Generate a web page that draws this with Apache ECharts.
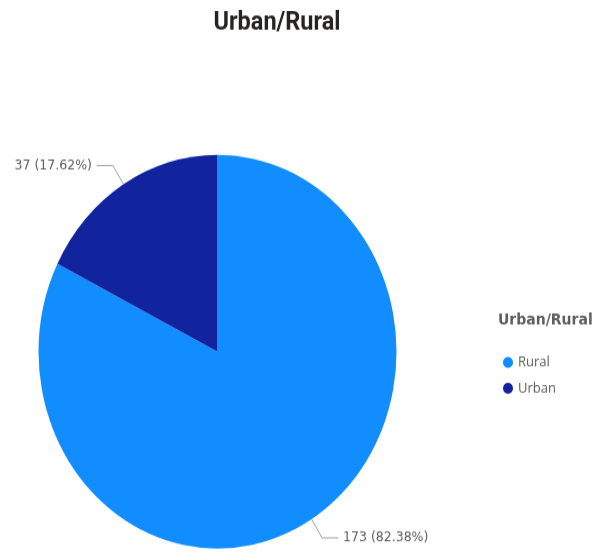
<!DOCTYPE html>
<html>
<head>
<meta charset="utf-8">
<script src="https://cdn.jsdelivr.net/npm/echarts@6/dist/echarts.min.js"></script>
<style>
  html { margin: 0; padding: 0; background: #ffffff; overflow: hidden; }
  body { margin: 0; padding: 0; width: 597px; height: 552px; background: #ffffff; }
  /* the visual is drawn in a shorter box and stretched vertically */
  #main { width: 597px; height: 502px; transform: scaleY(1.1); transform-origin: 0 0; }
</style>
</head>
<body>
<div id="main"></div>
<script>
const categories = ['Rural', 'Urban'];
const counts = [173, 37];
const colors = ['#118DFF', '#12239E'];
const chartTitle = 'Urban/Rural';
const legendTitle = 'Urban/Rural';

const total = counts.reduce((a, b) => a + b, 0);
const pieData = categories.map((name, i) => ({
  name: name,
  value: counts[i],
  itemStyle: { color: colors[i] }
}));

const chart = echarts.init(document.getElementById('main'), null, { renderer: 'canvas' });
chart.setOption({
  backgroundColor: '#ffffff',
  animation: false,
  title: [
    {
      text: chartTitle,
      left: 272,
      top: 4,
      textAlign: 'center',
      textStyle: { fontFamily: 'Roboto', fontWeight: 'bold', fontSize: 23.5, color: '#252423' }
    },
    {
      text: legendTitle,
      left: 493,
      top: 279,
      textStyle: { fontFamily: 'DejaVu Sans', fontWeight: 'bold', fontSize: 14, color: '#605E5C' }
    }
  ],
  legend: {
    orient: 'vertical',
    left: 498,
    top: 318,
    icon: 'circle',
    itemWidth: 10,
    itemHeight: 10,
    itemGap: 10.5,
    data: categories,
    textStyle: { fontFamily: 'Open Sans', fontSize: 13, color: '#605E5C' }
  },
  series: [
    {
      type: 'pie',
      center: [217.5, 319.7],
      radius: 179,
      startAngle: 90,
      clockwise: true,
      silent: true,
      avoidLabelOverlap: false,
      data: pieData,
      itemStyle: { borderWidth: 0 },
      label: {
        show: true,
        position: 'outside',
        fontFamily: 'DejaVu Sans',
        fontSize: 12.5,
        color: '#605E5C',
        formatter: p => p.value + ' (' + (p.value / total * 100).toFixed(2) + '%)'
      },
      labelLine: {
        show: true,
        length: 20,
        length2: 16,
        lineStyle: { color: '#A0A0A0', width: 1 }
      }
    }
  ]
});
</script>
</body>
</html>
